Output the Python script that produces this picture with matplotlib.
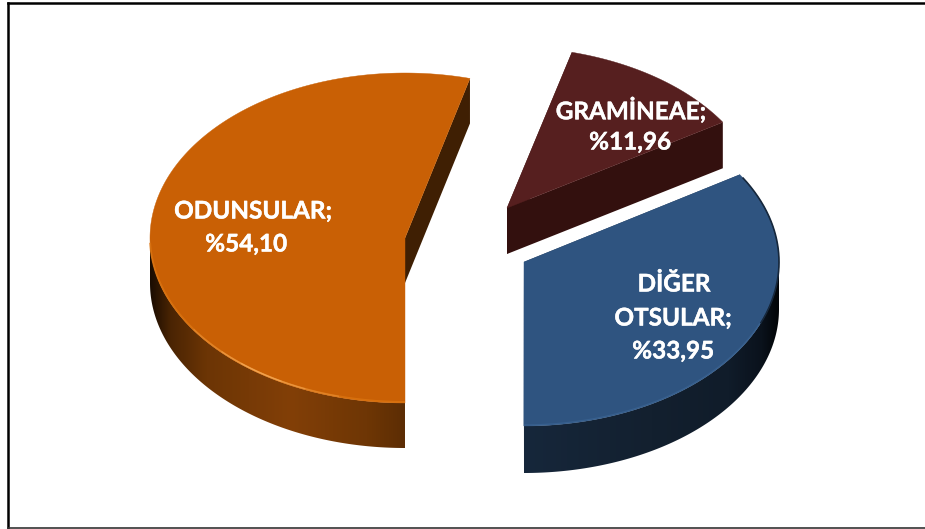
import numpy as np
import matplotlib
matplotlib.use("Agg")
from matplotlib import pyplot as plt
from matplotlib import patheffects
from matplotlib.colors import LinearSegmentedColormap
from matplotlib.patches import Polygon

# slice data, clockwise from straight down
names = ["ODUNSULAR", "GRAMİNEAE", "DİĞER OTSULAR"]
values = [54.10, 11.96, 33.95]
value_labels = ["%54,10", "%11,96", "%33,95"]

# layout in pixels
W, H = 925, 529
RX = 255
radii_y = [165, 161, 164]
depths = [45, 46, 47]
centers = [(405, 238), (507, 208), (524, 262)]
top_colors = ["#C96005", "#561F1F", "#2F5480"]
cut_colors = ["#3F1F03", "#33100E", "#13202F"]
side_stops = [
    [(0.0, "#1A0C01"), (0.08, "#4A2403"), (0.22, "#6C3505"), (0.55, "#823F07"), (0.85, "#6E3605"), (1.0, "#5C2D04")],
    [(0.0, "#33100E"), (1.0, "#33100E")],
    [(0.0, "#16273B"), (0.5, "#13202F"), (0.8, "#101C2A"), (0.93, "#0A121C"), (1.0, "#020406")],
]
text_pos = [
    [(253, 211), (246, 244)],
    [(631, 110), (630, 142)],
    [(674, 284), (673, 318), (673, 351)],
]


def rim(i, a0, a1, n=200):
    # angle in degrees clockwise from top
    cx, cy = centers[i]
    t = np.radians(np.linspace(a0, a1, n))
    return cx + RX * np.sin(t), cy - radii_y[i] * np.cos(t)


def draw_slice(ax, i, a0, a1):
    cx, cy = centers[i]
    depth = depths[i]
    x, y = rim(i, a0, a1)
    z = 2 + 0.1 * i

    # cut faces behind the top
    for a in [a0, a1]:
        ex, ey = rim(i, a, a, 1)
        ax.add_patch(Polygon([(cx, cy), (ex[0], ey[0]), (ex[0], ey[0] + depth), (cx, cy + depth)],
                             fc=cut_colors[i], ec="none", zorder=z))

    # outer wall only where it faces us (90..270 deg)
    start = a0 % 360
    end = start + (a1 - a0)
    lo, hi = max(start, 90), min(end, 270)
    if hi > lo:
        sx, sy = rim(i, lo, hi)
        pts = np.r_[np.c_[sx, sy], np.c_[sx[::-1], sy[::-1] + depth]]
        cmap = LinearSegmentedColormap.from_list("side%d" % i, side_stops[i])
        grad = np.linspace(0, 1, 256).reshape(1, -1)
        im = ax.imshow(grad, cmap=cmap, aspect="auto", zorder=z + 0.01,
                       extent=[sx.min(), sx.max(), sy.max() + depth, sy.min()])
        im.set_clip_path(Polygon(pts, transform=ax.transData))

    # top face
    ax.add_patch(Polygon(np.r_[[(cx, cy)], np.c_[x, y]], fc=top_colors[i], ec=top_colors[i],
                         lw=0.3, zorder=z + 0.02))

    # bevel along the front edge
    if i == 0:
        hx, hy = rim(i, 180, 268)
        ax.plot(hx, hy - 1, color="#DB7410", lw=1.4, alpha=0.8, zorder=z + 0.03, solid_capstyle="butt")
        for arc, al in [((195, 236), 0.3), ((203, 226), 0.4), ((209, 220), 0.5)]:
            hx, hy = rim(i, arc[0], arc[1])
            ax.plot(hx, hy - 1, color="#F9B060", lw=1.0, alpha=al, zorder=z + 0.04, solid_capstyle="butt")
    elif i == 2:
        hx, hy = rim(i, 105, 180)
        ax.plot(hx, hy - 1, color="#3A6494", lw=1.0, alpha=0.7, zorder=z + 0.03, solid_capstyle="butt")
        hx, hy = rim(i, 59, 112)
        ax.plot(hx, hy, color="#16273B", lw=1.2, zorder=z + 0.03, solid_capstyle="butt")


fig = plt.figure(figsize=(W / 100, H / 100), dpi=100)
ax = fig.add_axes([0, 0, 1, 1])
ax.set_axis_off()

angles = 180 + 3.6 * np.r_[0, np.cumsum(values)]
for i in [1, 0, 2]:
    draw_slice(ax, i, angles[i], angles[i + 1])

ax.set_xlim(0, W)
ax.set_ylim(H, 0)

# frame, right side runs off the picture
ax.plot([8, 8], [3, 528], color="black", lw=1.8, zorder=1)
ax.plot([8, W], [3, 3], color="black", lw=1.8, zorder=1)
ax.plot([8, W], [527.5, 527.5], color="#333333", lw=1.2, zorder=1)

label_lines = [
    [names[0] + ";", value_labels[0]],
    [names[1] + ";", value_labels[1]],
    ["DİĞER", "OTSULAR;", value_labels[2]],
]
for lines, pos in zip(label_lines, text_pos):
    for line, (tx, ty) in zip(lines, pos):
        t = ax.text(tx, ty, line, color="white", family="Lato", weight="bold", fontsize=17.5,
                    ha="center", va="center", zorder=5)
        t.set_path_effects([patheffects.withStroke(linewidth=0.3, foreground="white")])

fig.savefig("out.png", dpi=100)
